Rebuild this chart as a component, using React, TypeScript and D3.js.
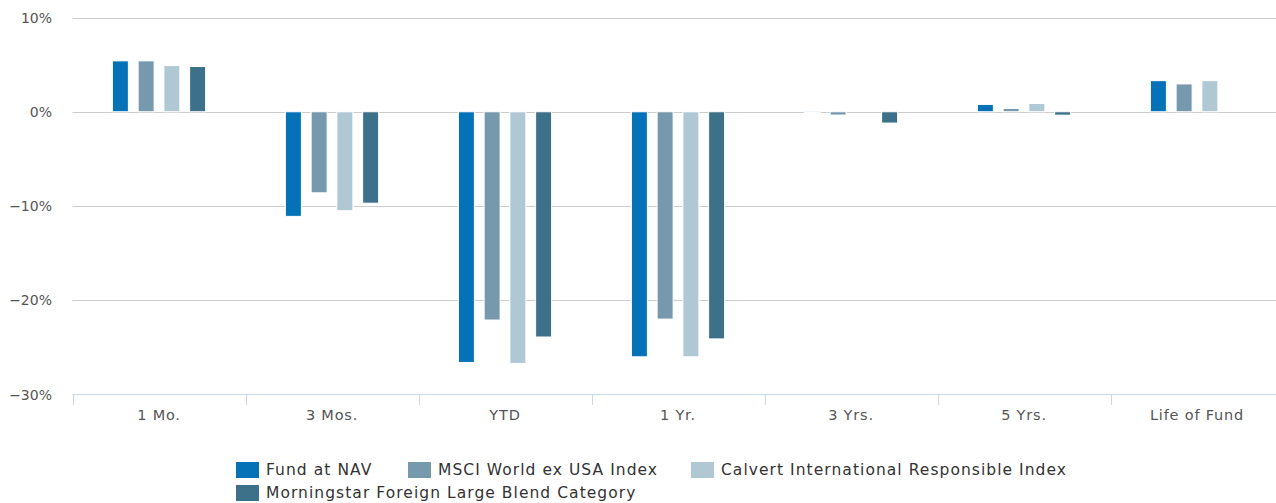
import React from 'react';
import * as d3 from 'd3';

const categories = ['1 Mo.', '3 Mos.', 'YTD', '1 Yr.', '3 Yrs.', '5 Yrs.', 'Life of Fund'];
const seriesNames = [
  'Fund at NAV',
  'MSCI World ex USA Index',
  'Calvert International Responsible Index',
  'Morningstar Foreign Large Blend Category',
];
const seriesColors = ['#0572b8', '#7699ae', '#b0c8d4', '#3c7189'];
const fundAtNav = [5.4, -11.1, -26.6, -26.0, 0.0, 0.78, 3.3];
const msciWorld = [5.4, -8.6, -22.1, -22.0, -0.35, 0.35, 2.95];
const calvertIntl = [4.9, -10.5, -26.7, -26.0, null, 0.88, 3.3];
const morningstar = [4.8, -9.7, -23.9, -24.1, -1.2, -0.36, null];
const yTicks = [10, 0, -10, -20, -30];

const series = [fundAtNav, msciWorld, calvertIntl, morningstar];

const W = 1276;
const H = 503;
const FONT = '"DejaVu Sans", Verdana, sans-serif';

export default function App() {
  const x = d3.scaleBand<string>().domain(categories).range([72.5, 72.5 + 7 * 173]);
  const y = d3.scaleLinear().domain([-30, 10]).range([394.5, 17.5]);
  // slots for the four bars inside a category
  const x1 = d3
    .scaleBand<number>()
    .domain(d3.range(series.length))
    .range([0, 103]);
  const groupOffset = (x.bandwidth() - 103) / 2;
  const barW = 16;

  // legend layout: three items on the first row, one below
  const legendItems = [
    { x: 236, y: 462 },
    { x: 408, y: 462 },
    { x: 691, y: 462 },
    { x: 236, y: 485 },
  ];

  return (
    <svg
      width={W}
      height={H}
      style={{ position: 'absolute', left: 0, top: 0, fontFamily: FONT }}
    >
      {/* grid */}
      {yTicks.map((t) =>
        t === -30 ? null : (
          <line
            key={t}
            x1={72.5}
            x2={W}
            y1={Math.round(y(t)) + 0.5}
            y2={Math.round(y(t)) + 0.5}
            stroke="#cccccc"
            strokeWidth={1}
          />
        )
      )}
      {yTicks.map((t) => (
        <text
          key={'l' + t}
          x={52}
          y={y(t) + 5}
          textAnchor="end"
          fontSize={14}
          fill="#555"
        >
          {(t < 0 ? '\u2212' + Math.abs(t) : t) + '%'}
        </text>
      ))}

      {/* bars */}
      {categories.map((c, i) => (
        <g key={c} transform={`translate(${(x(c) as number) + groupOffset},0)`}>
          {series.map((s, j) => {
            const v = s[i];
            if (v === null || v === undefined) return null;
            const y0 = y(0);
            const yv = y(v);
            const top = Math.min(y0, yv);
            const h = Math.max(1, Math.abs(yv - y0));
            return (
              <rect
                key={j}
                x={(x1(j) as number) + (x1.bandwidth() - barW) / 2}
                y={top}
                width={barW}
                height={h}
                fill={seriesColors[j]}
                stroke="#fff"
                strokeWidth={1}
              />
            );
          })}
        </g>
      ))}

      {/* x axis */}
      <line x1={72.5} x2={W} y1={394.5} y2={394.5} stroke="#ccd6eb" />
      {d3.range(categories.length + 1).map((k) => {
        const tx = Math.round(72.5 + k * x.bandwidth()) + 0.5;
        return <line key={k} x1={tx} x2={tx} y1={394.5} y2={405} stroke="#ccd6eb" />;
      })}
      {categories.map((c) => (
        <text
          key={'x' + c}
          x={(x(c) as number) + x.bandwidth() / 2}
          y={420}
          textAnchor="middle"
          fontSize={14.5}
          letterSpacing={0.8}
          fill="#555"
        >
          {c}
        </text>
      ))}

      {/* legend */}
      {seriesNames.map((n, j) => (
        <g key={n} transform={`translate(${legendItems[j].x},${legendItems[j].y})`}>
          <rect width={23} height={16} fill={seriesColors[j]} />
          <text x={30} y={13} fontSize={15.5} letterSpacing={1.05} fill="#333">
            {n}
          </text>
        </g>
      ))}
    </svg>
  );
}
